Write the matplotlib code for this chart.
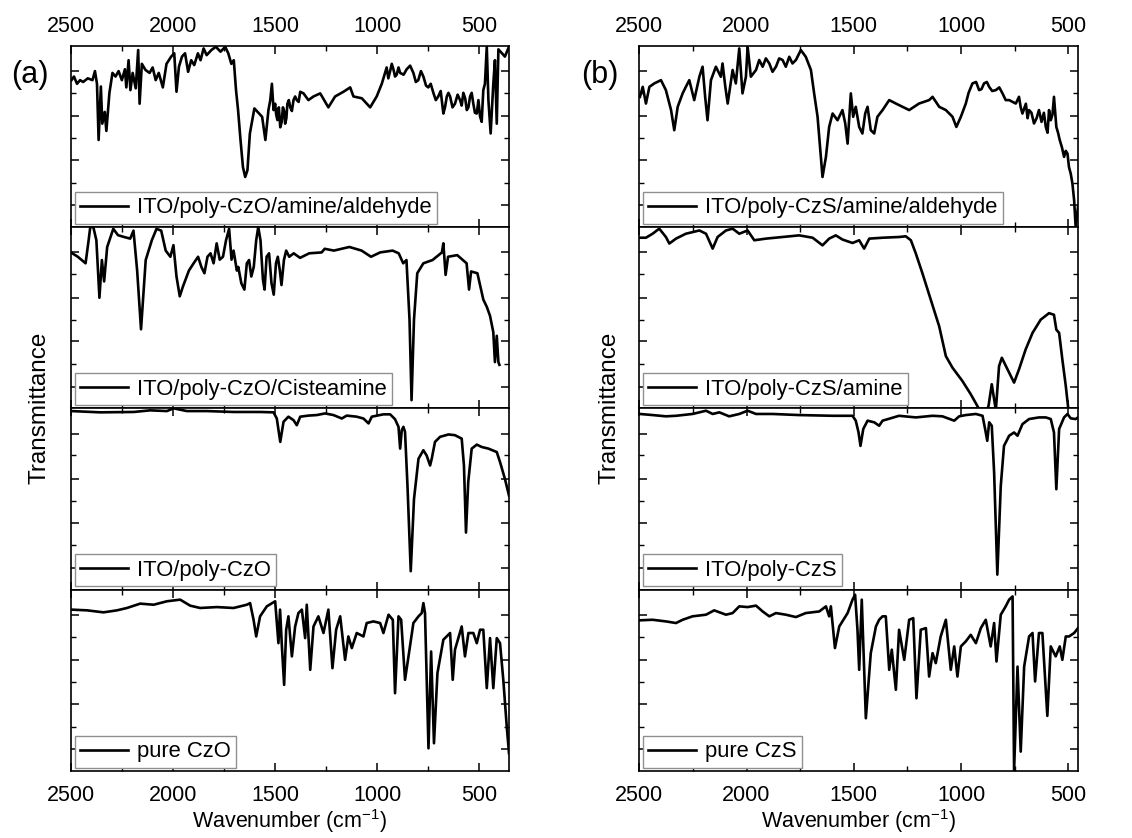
import matplotlib
matplotlib.use('Agg')
import matplotlib.pyplot as plt
from matplotlib.ticker import MultipleLocator

plt.rcParams['font.family'] = ['Liberation Sans', 'DejaVu Sans']
plt.rcParams['mathtext.fontset'] = 'custom'
plt.rcParams['mathtext.rm'] = 'Liberation Sans'

# (a) ITO/poly-CzO/amine/aldehyde
czo_ald_wn = [2499, 2487, 2472, 2457, 2442, 2419, 2396, 2384, 2374, 2366, 2355, 2348, 2336, 2328, 2313, 2298,
              2283, 2268, 2252, 2237, 2230, 2219, 2210, 2199, 2184, 2172, 2165, 2154, 2136, 2116, 2101, 2086,
              2071, 2051, 2033, 2010, 1995, 1984, 1972, 1957, 1942, 1927, 1912, 1897, 1879, 1866, 1851, 1836,
              1813, 1791, 1768, 1745, 1730, 1715, 1703, 1692, 1682, 1670, 1658, 1647, 1636, 1624, 1602, 1579,
              1564, 1548, 1533, 1524, 1516, 1508, 1500, 1495, 1489, 1482, 1475, 1468, 1462, 1456, 1451, 1445,
              1440, 1433, 1426, 1418, 1410, 1402, 1394, 1385, 1377, 1361, 1337, 1312, 1279, 1239, 1206, 1165,
              1132, 1116, 1075, 1034, 1002, 977, 953, 945, 936, 928, 920, 912, 904, 895, 887, 870,
              855, 838, 822, 810, 798, 785, 773, 760, 749, 737, 724, 712, 700, 688, 675, 667,
              658, 650, 642, 630, 618, 605, 593, 585, 577, 568, 560, 552, 544, 536, 528, 520,
              511, 503, 495, 487, 479, 471, 462, 454, 443, 430, 422, 413, 405, 389, 373, 353]
czo_ald_t = [81, 83, 79, 81, 80, 82, 81, 86, 79, 48, 77.5, 57, 63.5, 53, 74, 85,
             83, 86, 81, 87, 77, 92, 75.5, 85, 76.5, 97.6, 68, 90, 86.6, 85, 88, 81,
             85, 77, 90, 94, 95.8, 74.6, 88.4, 94, 95.8, 85.6, 92, 89.3, 95.8, 92, 98.5, 94.8,
             97.6, 99.4, 96.7, 99.4, 95.8, 90, 92, 75.5, 64.5, 48, 33, 27.6, 31.3, 51.6, 65.4, 62.6,
             60.8, 48, 64.5, 70, 79, 64.5, 68, 62, 59, 66, 55, 58, 66, 64, 57, 60,
             68, 70, 66, 64, 70, 72, 70, 69, 74.6, 73.7, 70, 72, 73.7, 66, 72, 74.6,
             77, 72, 71, 66, 72, 79, 88, 82, 86, 90, 87, 83, 84, 88, 85, 84,
             87, 89, 85, 80, 81, 86, 83, 78, 77, 79, 74, 70, 72, 75, 62.6, 66,
             72, 74, 72, 66, 68, 73, 70, 67, 74, 71, 64.5, 66, 72, 74, 68, 63,
             62.6, 70, 61, 58, 75.5, 79, 99.5, 70, 51.6, 79, 92, 57, 98, 96, 94, 99.5]

# (a) ITO/poly-CzO/Cisteamine
czo_cis_wn = [2495, 2468, 2430, 2415, 2407, 2392, 2377, 2362, 2350, 2339, 2324, 2294, 2271, 2241, 2211, 2195,
              2177, 2158, 2135, 2105, 2082, 2059, 2037, 2014, 1999, 1984, 1968, 1953, 1923, 1900, 1878, 1862,
              1847, 1832, 1817, 1802, 1787, 1772, 1756, 1741, 1726, 1714, 1704, 1688, 1681, 1666, 1651, 1639,
              1628, 1617, 1605, 1593, 1583, 1572, 1560, 1552, 1542, 1530, 1518, 1507, 1496, 1487, 1477, 1469,
              1457, 1446, 1431, 1409, 1378, 1333, 1272, 1257, 1212, 1136, 1076, 1030, 985, 924, 894, 872,
              856, 841, 831, 819, 803, 773, 728, 682, 675, 664, 652, 607, 561, 549, 539, 508,
              479, 462, 446, 430, 422, 413, 405, 400]
czo_cis_t = [85.5, 83.6, 80, 92.7, 100, 100, 92.7, 61, 81.8, 70, 89, 99, 95.5, 94.5, 93.6, 98,
             76, 43.6, 81.8, 92.7, 99, 98, 87, 83.6, 90, 72.7, 61.8, 67, 76, 80, 83.6, 78,
             74.5, 83.6, 85.5, 80, 91, 82, 83.6, 92.7, 99, 82, 87, 76, 78, 69, 65.5, 80,
             81.8, 72.7, 78, 92.7, 100, 92.7, 71, 65.5, 83.6, 85.5, 69, 62.7, 80, 83.6, 76, 68,
             81.8, 87, 83.6, 85.5, 83, 85.5, 86, 88, 87, 89, 87, 83.6, 86, 87, 85.5, 80,
             81.8, 49, 4.5, 49, 74.5, 80, 81.8, 86, 91, 73.6, 83.6, 84.5, 80, 65.5, 75.5, 74.5,
             60, 56, 51, 42, 25.5, 40, 25.5, 24]

# (a) ITO/poly-CzO
czo_poly_wn = [2500, 2358, 2194, 2113, 2031, 1998, 1933, 1835, 1704, 1574, 1508, 1492, 1475, 1459, 1435, 1410,
               1394, 1377, 1337, 1296, 1255, 1214, 1173, 1149, 1100, 1067, 1042, 1026, 969, 936, 912, 895,
               887, 879, 871, 863, 851, 835, 819, 797, 773, 757, 740, 732, 716, 691, 650, 618,
               585, 574, 564, 553, 536, 511, 487, 454, 413, 397, 373, 353]
czo_poly_t = [98.5, 97.8, 98, 98.9, 98.5, 100, 98.5, 98.5, 98, 98, 97.8, 94.4, 81.5, 92.6, 95.4, 93.5,
              90.7, 95.4, 96, 96.3, 97.2, 96.3, 94.4, 96, 95.4, 94.4, 91.7, 95.4, 96.7, 96.7, 94, 89.8,
              77.8, 88, 89.8, 87, 57.4, 10.2, 50, 72.2, 76.9, 74, 68.5, 72.2, 81.5, 84.3, 85.6, 85.2,
              83.3, 68.5, 31.5, 59.3, 77.8, 80, 78.7, 77.8, 75.9, 70.4, 61.1, 51.9]

# (a) pure CzO
czo_pure_wn = [2500, 2423, 2342, 2276, 2227, 2162, 2096, 2031, 1966, 1917, 1868, 1786, 1704, 1639, 1623, 1606,
               1593, 1574, 1541, 1500, 1484, 1476, 1467, 1456, 1446, 1435, 1418, 1402, 1386, 1369, 1353, 1345,
               1328, 1312, 1288, 1263, 1239, 1219, 1201, 1181, 1157, 1141, 1124, 1100, 1067, 1051, 1018, 985,
               969, 944, 923, 912, 895, 882, 863, 846, 822, 797, 781, 773, 765, 748, 735, 721,
               704, 675, 642, 629, 618, 585, 569, 552, 528, 511, 495, 479, 462, 446, 430, 413,
               397, 381, 364, 353]
czo_pure_t = [89, 88.6, 87.5, 88.6, 89.9, 92.3, 91.7, 93.6, 94.5, 91.2, 89.9, 90.4, 89.9, 91.7, 92.6, 83.4,
              74.2, 85.3, 90.8, 93.6, 70.5, 89, 68.7, 47.5, 77.9, 85.3, 63.2, 79.7, 87.1, 89, 73.3, 91.7,
              55.8, 79.7, 85.3, 76.1, 89, 56.7, 77.9, 85.3, 61.3, 74.2, 67.8, 76.1, 74.2, 81.6, 82.5, 81.6,
              76.1, 86.2, 83.4, 42.9, 85.3, 83.4, 50.3, 63.2, 81.6, 85.3, 87.1, 92.6, 87.1, 12.5, 65.9, 15.3,
              54, 72.4, 76.1, 50.3, 66.9, 79.7, 63.2, 76.1, 76.1, 70.5, 77.9, 77.9, 45.7, 73.3, 45.7, 73.3,
              70.5, 50.3, 24.5, 9.8]

# (b) ITO/poly-CzS/amine/aldehyde
czs_ald_wn = [2497, 2484, 2469, 2453, 2430, 2399, 2376, 2352, 2337, 2321, 2298, 2283, 2267, 2244, 2220, 2205,
              2193, 2182, 2166, 2143, 2120, 2112, 2099, 2088, 2065, 2050, 2034, 2019, 2003, 1995, 1980, 1956,
              1941, 1925, 1910, 1894, 1879, 1863, 1848, 1832, 1817, 1801, 1786, 1770, 1747, 1724, 1700, 1685,
              1669, 1646, 1630, 1615, 1599, 1576, 1553, 1540, 1529, 1514, 1503, 1491, 1475, 1460, 1447, 1436,
              1421, 1405, 1390, 1366, 1335, 1304, 1273, 1242, 1196, 1149, 1133, 1102, 1071, 1040, 1022, 1001,
              978, 965, 947, 930, 916, 905, 893, 880, 869, 855, 838, 822, 807, 792, 776, 745,
              730, 722, 714, 698, 690, 683, 672, 660, 648, 637, 625, 614, 605, 597, 590, 582,
              574, 567, 556, 548, 540, 530, 520, 512, 504, 497, 489, 481, 473, 466, 455]
czs_ald_t = [71.8, 77.3, 68.1, 77.3, 79.2, 81, 75.5, 64.5, 53.4, 66.3, 73.7, 77.3, 81, 70, 82.9, 88.4,
             71.8, 58.9, 81, 88.4, 82.9, 90.2, 77.3, 68.1, 86.6, 79.2, 98.5, 73.7, 82.9, 99.4, 82.9, 86.6,
             92.1, 88.4, 93, 90.2, 85.6, 88.4, 93, 92.1, 88.4, 93.9, 90.2, 92.1, 97.6, 93.9, 86.6, 73.7,
             60.8, 27.6, 38.7, 55.2, 62.6, 58.9, 64.5, 57.1, 46, 73.7, 60.8, 66.3, 55.2, 51.6, 62.6, 66.3,
             53.4, 51.6, 60.8, 64.5, 70, 68.1, 66.3, 64.5, 68.1, 70, 71.8, 66.3, 64.5, 60.8, 55.2, 60.8,
             68.1, 74, 79.2, 80, 75.5, 76, 79.2, 80, 77.3, 75, 75.5, 77, 73.7, 70, 70, 68.1,
             71.8, 66, 62.6, 68, 60, 64.5, 63, 57.1, 60, 64.5, 58, 63, 55.2, 52, 64.5, 58.9,
             62, 71.8, 55.2, 52, 47.9, 44, 38.7, 42, 40.5, 33, 29.5, 24, 14.7, 0, 11]

# (b) ITO/poly-CzS/amine
czs_am_wn = [2497, 2469, 2438, 2407, 2376, 2360, 2329, 2283, 2220, 2189, 2158, 2135, 2096, 2065, 2034, 1995,
             1964, 1910, 1832, 1755, 1692, 1646, 1615, 1584, 1553, 1506, 1475, 1452, 1428, 1366, 1289, 1258,
             1234, 1211, 1180, 1141, 1102, 1071, 1040, 994, 955, 916, 884, 872, 857, 846, 838, 823,
             810, 791, 753, 730, 699, 667, 629, 590, 567, 556, 543, 528, 512, 500, 489]
czs_am_t = [94.1, 94.1, 96.3, 99.1, 94.5, 90.9, 93.6, 96.3, 98.1, 96.3, 88.1, 94.5, 98.1, 99.1, 96.3, 98.1,
            92.7, 93.6, 94.5, 95.4, 94.1, 89.9, 93.6, 95.4, 93.1, 91.2, 92.7, 88.1, 93.6, 94.1, 94.5, 94.9,
            92.7, 85.4, 74.4, 59.8, 45.2, 28.8, 22.4, 15.1, 7.8, -0.4, -3, 1.4, 13.3, 5, -1, 23.3,
            27.9, 23.3, 14.2, 21.5, 32.5, 41.6, 48.9, 52.5, 51.6, 43.4, 41.6, 27, 12.4, -0.5, -2]

# (b) ITO/poly-CzS
czs_poly_wn = [2497, 2438, 2376, 2329, 2252, 2220, 2189, 2158, 2127, 2081, 2034, 1995, 1956, 1879, 1755, 1599,
               1506, 1491, 1478, 1469, 1456, 1436, 1405, 1382, 1366, 1289, 1211, 1133, 1087, 1032, 1009, 978,
               931, 900, 888, 878, 869, 857, 846, 831, 815, 800, 776, 753, 737, 714, 683, 637,
               605, 582, 567, 556, 543, 520, 504, 489, 466, 455]
czs_poly_t = [96.9, 96.3, 95.6, 95.9, 96.9, 97.8, 98.7, 96.9, 97.8, 95.6, 96.9, 98.7, 96.9, 96.9, 96.3, 95.9,
              95.9, 93.2, 86.7, 79.3, 88.6, 93.2, 92.3, 90.4, 93.2, 95.9, 95, 95.9, 95.6, 93.2, 95.6, 96.3,
              96.9, 95.9, 88.6, 82.1, 92.3, 90.4, 64.6, 8.3, 57.2, 79.3, 84.9, 86.7, 84.9, 91.3, 94.1, 95,
              95, 94.1, 86.7, 55.4, 88.6, 95, 96.9, 94.5, 94.1, 95]

# (b) pure CzS
czs_pure_wn = [2497, 2438, 2376, 2329, 2298, 2252, 2189, 2151, 2096, 2065, 2034, 1995, 1956, 1925, 1894, 1863,
               1817, 1770, 1724, 1661, 1630, 1615, 1607, 1588, 1568, 1529, 1506, 1494, 1483, 1475, 1463, 1444,
               1421, 1397, 1382, 1366, 1351, 1335, 1323, 1304, 1289, 1265, 1242, 1223, 1208, 1188, 1164, 1149,
               1133, 1118, 1095, 1071, 1048, 1032, 1017, 1001, 978, 955, 931, 908, 885, 862, 846, 835,
               815, 792, 776, 760, 753, 737, 722, 706, 683, 667, 655, 637, 621, 598, 582, 559,
               540, 528, 512, 497, 473, 455]
czs_pure_t = [83.1, 83.4, 82.5, 81.6, 83.4, 85.3, 86.2, 88.6, 86.2, 87.1, 90.8, 90.4, 91.2, 88, 85.3, 87.1,
              86.2, 84.9, 87.1, 88, 90.8, 85.3, 90.8, 67.8, 79.7, 87.1, 94.5, 97.2, 77.9, 55.8, 94.5, 29.1,
              65, 79.7, 83.4, 85.3, 85.3, 55.8, 66.9, 44.8, 77.9, 61.3, 83.4, 84.3, 40.1, 77.9, 78.8, 52.1,
              65, 59.5, 74.2, 83.4, 55.8, 68.7, 52.1, 68.7, 71.5, 75.1, 70.5, 78.8, 83.4, 68.7, 81.6, 60.4,
              86.2, 90.8, 94.5, 96.3, 0, 57.6, 10.7, 57.6, 74.2, 76.1, 49.4, 76.1, 76.1, 30.4, 68.7, 63.2,
              68.7, 61.3, 74.2, 74.2, 76.1, 78.8]

panels_a = [(czo_ald_wn, czo_ald_t, 'ITO/poly-CzO/amine/aldehyde'),
            (czo_cis_wn, czo_cis_t, 'ITO/poly-CzO/Cisteamine'),
            (czo_poly_wn, czo_poly_t, 'ITO/poly-CzO'),
            (czo_pure_wn, czo_pure_t, 'pure CzO')]
panels_b = [(czs_ald_wn, czs_ald_t, 'ITO/poly-CzS/amine/aldehyde'),
            (czs_am_wn, czs_am_t, 'ITO/poly-CzS/amine'),
            (czs_poly_wn, czs_poly_t, 'ITO/poly-CzS'),
            (czs_pure_wn, czs_pure_t, 'pure CzS')]

W, H = 1132, 838
fig = plt.figure(figsize=(W / 100, H / 100), dpi=100)

top_px, bot_px = 45.7, 771
ph = (bot_px - top_px) / 4 / H

columns = [(71.3, 509, 353, panels_a), (639.3, 1078, 455, panels_b)]
for x0, x1, xend, panels in columns:
    for i, (wn, t, lab) in enumerate(panels):
        bottom = 1 - bot_px / H + (3 - i) * ph
        ax = fig.add_axes([x0 / W, bottom, (x1 - x0) / W, ph])
        ax.plot(wn, t, color='black', lw=1.9, label=lab)
        ax.set_xlim(2500, xend)
        ax.set_ylim(0, 100)
        ax.xaxis.set_major_locator(MultipleLocator(500))
        ax.xaxis.set_minor_locator(MultipleLocator(250))
        ax.set_yticks([12, 37, 61, 86])
        ax.set_yticks([24.5, 49, 74], minor=True)
        ax.tick_params(which='both', direction='in', top=True, right=True, labelleft=False,
                       labelbottom=(i == 3), labeltop=(i == 0), labelsize=15.5,
                       pad=(6 if i == 0 else 10))
        ax.tick_params(which='major', length=6, width=1.1)
        ax.tick_params(which='minor', length=3.5, width=1.0)
        for s in ax.spines.values():
            s.set_linewidth(1.2)
        leg = ax.legend(loc='lower left', fontsize=15.8, fancybox=False, edgecolor='#909090',
                        framealpha=1, borderaxespad=0.15, handlelength=2.2, handletextpad=0.4,
                        borderpad=0.25)
        leg.get_frame().set_linewidth(1.0)
        if i == 3:
            ax.set_xlabel('Wavenumber (cm$^{\\mathregular{-1}}$)', fontsize=15.5, labelpad=1)

fig.text(40 / W, 1 - 408 / H, 'Transmittance', rotation=90, fontsize=17.5, ha='center', va='center')
fig.text(609 / W, 1 - 408 / H, 'Transmittance', rotation=90, fontsize=17.5, ha='center', va='center')
fig.text(30 / W, 1 - 75 / H, '(a)', fontsize=22, ha='center', va='center')
fig.text(600 / W, 1 - 75 / H, '(b)', fontsize=22, ha='center', va='center')

fig.savefig('out.png', dpi=100)
